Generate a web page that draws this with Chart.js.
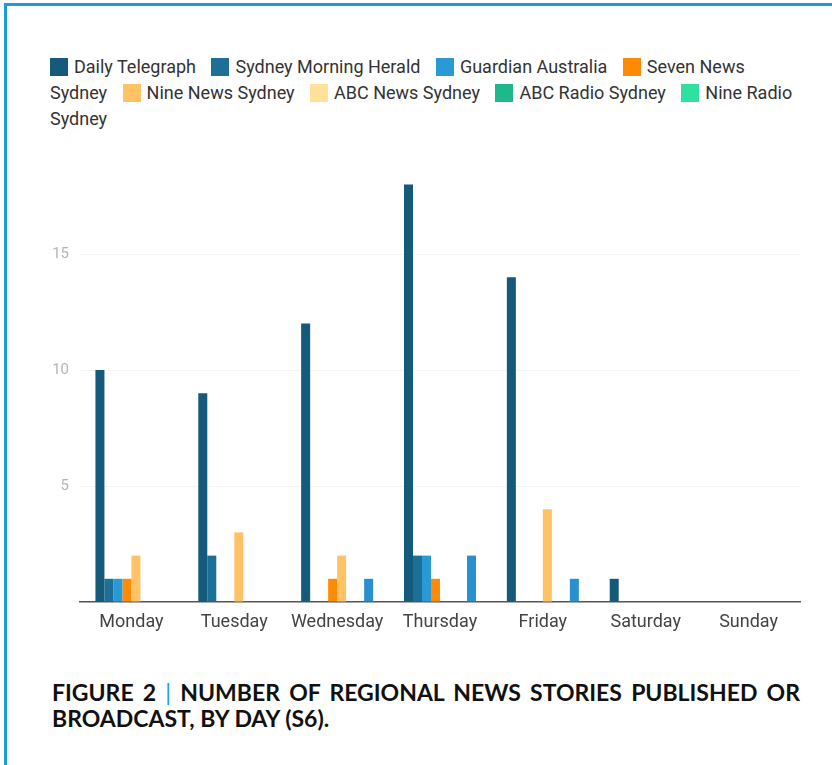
<!DOCTYPE html>
<html>
<head>
<meta charset="utf-8">
<script src="https://cdn.jsdelivr.net/npm/chart.js@4/dist/chart.umd.min.js"></script>
<style>
  html, body { margin: 0; padding: 0; background: #fff; }
  #page {
    position: relative; width: 832px; height: 765px; overflow: hidden;
    font-family: Roboto, "Noto Sans", sans-serif;
  }
  #frameTop { position: absolute; left: 4px; top: 3px; width: 828px; height: 3px; background: #1b9bd7; }
  #frameLeft { position: absolute; left: 4px; top: 3px; width: 3px; height: 762px; background: #1b9bd7; }
  #legend {
    position: absolute; left: 50px; top: 54px; width: 755px;
    font-size: 18px; line-height: 26px; color: #333;
  }
  #legend .item { margin-right: 11px; }
  #legend .box {
    display: inline-block; width: 18px; height: 18px; vertical-align: -3px; margin-right: 6px;
  }
  #chartWrap { position: absolute; left: 40px; top: 118px; width: 770px; height: 518px; }
  #caption {
    position: absolute; left: 52px; top: 679px; width: 748px;
    font-family: Lato, "Open Sans", sans-serif; font-weight: bold; font-size: 23px;
    line-height: 26px; color: #111;
  }
  #caption .line1 { text-align: justify; text-align-last: justify; }
  #caption .bar { color: #1b9bd7; font-weight: normal; }
</style>
</head>
<body>
<div id="page">
  <div id="frameTop"></div>
  <div id="frameLeft"></div>
  <div id="legend"></div>
  <div id="chartWrap"><canvas id="chart"></canvas></div>
  <div id="caption">
    <div class="line1">FIGURE 2 <span class="bar">|</span> NUMBER OF REGIONAL NEWS STORIES PUBLISHED OR</div>
    <div>BROADCAST, BY DAY (S6).</div>
  </div>
</div>
<script>
// dias de la semana
const days = ['Monday', 'Tuesday', 'Wednesday', 'Thursday', 'Friday', 'Saturday', 'Sunday'];

// series (historias por dia)
const dailyTelegraph = [10, 9, 12, 18, 14, 1, 0];
const sydneyMorningHerald = [1, 2, 0, 2, 0, 0, 0];
const guardianAustralia = [1, 0, 0, 2, 0, 0, 0];
const sevenNewsSydney = [1, 0, 1, 1, 0, 0, 0];
const nineNewsSydney = [2, 3, 2, 0, 4, 0, 0];
const abcNewsSydney = [0, 0, 0, 0, 0, 0, 0];
const abcRadioSydney = [0, 0, 0, 0, 0, 0, 0];
const nineRadioSydney = [0, 0, 1, 2, 1, 0, 0];

const yTicks = [5, 10, 15];

const seriesNames = ['Daily Telegraph', 'Sydney Morning Herald', 'Guardian Australia', 'Seven News Sydney',
    'Nine News Sydney', 'ABC News Sydney', 'ABC Radio Sydney', 'Nine Radio Sydney'];
const seriesData = [dailyTelegraph, sydneyMorningHerald, guardianAustralia, sevenNewsSydney,
    nineNewsSydney, abcNewsSydney, abcRadioSydney, nineRadioSydney];
const barColors = ['#135a7b', '#1d6f98', '#2a9ad6', '#ff8a05', '#ffc264', '#ffe19a', '#1eb88c', '#2890cc'];
const legendColors = ['#135a7b', '#1d6f98', '#2a9ad6', '#ff8a05', '#ffc264', '#ffe19a', '#1eb88c', '#2fe09e'];

const ctx = document.getElementById('chart').getContext('2d');

const chart = new Chart(ctx, {
    type: 'bar',
    data: {
        labels: days,
        datasets: seriesNames.map((name, i) => ({
            label: name,
            data: seriesData[i],
            backgroundColor: barColors[i],
            borderWidth: 0,
            categoryPercentage: 0.7,
            barPercentage: 1.0
        }))
    },
    options: {
        responsive: true,
        maintainAspectRatio: false,
        animation: false,
        layout: { padding: { top: 8, right: 10, left: 0, bottom: 0 } },
        plugins: {
            legend: { display: false },
            tooltip: { enabled: false }
        },
        scales: {
            x: {
                grid: { display: false },
                border: { display: true, color: '#555', width: 1.5 },
                ticks: { color: '#444', font: { family: 'Roboto', size: 18 }, padding: 2, maxRotation: 0 },
                afterFit: (s) => { s.height = 34; }
            },
            y: {
                min: 0,
                max: 20,
                afterBuildTicks: (s) => { s.ticks = [0, ...yTicks, 20].map(v => ({ value: v })); },
                grid: {
                    color: (c) => yTicks.includes(c.tick.value) ? '#f4f4f4' : 'rgba(0,0,0,0)',
                    drawTicks: false
                },
                border: { display: false },
                ticks: {
                    color: '#b5b5b5',
                    font: { family: 'Roboto', size: 15 },
                    padding: 11,
                    callback: (v) => yTicks.includes(v) ? String(v) : ''
                },
                afterFit: (s) => { s.width = 40; }
            }
        }
    }
});

// leyenda HTML que corta las palabras como el original
const legendEl = document.getElementById('legend');
legendEl.innerHTML = chart.data.datasets.map((ds, i) =>
    '<span class="item"><span class="box" style="background:' + legendColors[i] + '"></span>' + ds.label + '</span>'
).join(' ');
</script>
</body>
</html>
